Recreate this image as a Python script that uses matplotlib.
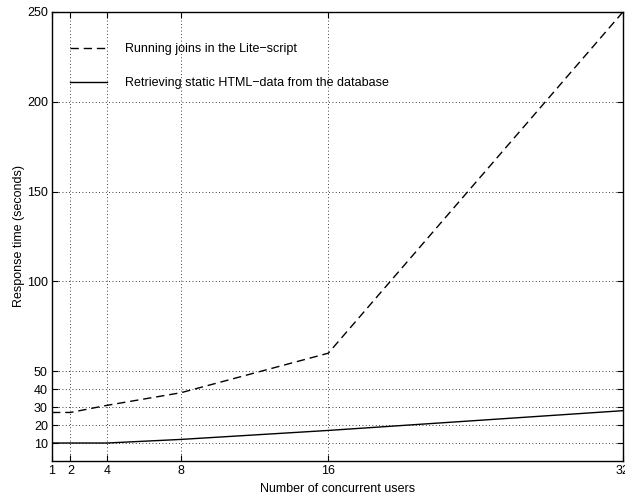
import matplotlib
matplotlib.use("Agg")
import matplotlib.pyplot as plt

plt.rcParams['font.family'] = ['Liberation Sans', 'DejaVu Sans']

# ---- data ----
users = [1, 2, 4, 8, 16, 32]
joins_lite = [27, 27, 31, 38, 60, 250]
static_html = [10, 10, 10, 12, 17, 28]

x_ticks = [1, 2, 4, 8, 16, 32]
y_ticks = [10, 20, 30, 40, 50, 100, 150, 200, 250]

fig = plt.figure(figsize=(6.25, 4.99), dpi=100)
ax = fig.add_axes([0.0832, 0.0762, 0.9136, 0.9], )

ax.plot(users, joins_lite, color='black', lw=1.0, linestyle=(0, (6, 3.5)),
        label='Running joins in the Lite\u2212script')
ax.plot(users, static_html, color='black', lw=1.0,
        label='Retrieving static HTML\u2212data from the database')

ax.set_xlim(1, 32)
ax.set_ylim(0, 250)
ax.set_xticks(x_ticks)
ax.set_yticks(y_ticks)
ax.tick_params(direction='in', top=True, right=True, labelsize=9, length=4, width=0.8, pad=3)
ax.grid(True, linestyle=(0, (1, 3)), color='black', lw=0.6)
for s in ax.spines.values():
    s.set_linewidth(1.0)

ax.set_xlabel('Number of concurrent users', fontsize=9, labelpad=4)
ax.set_ylabel('Response time (seconds)', fontsize=9, labelpad=1)

leg = ax.legend(loc='upper left', frameon=False, fontsize=9,
                handlelength=2.95, handletextpad=1.45, labelspacing=1.75, borderaxespad=0.0,
                borderpad=0.0)
leg.set_bbox_to_anchor((0.0315, 0.93), transform=ax.transAxes)

fig.savefig('out.png', dpi=100)
